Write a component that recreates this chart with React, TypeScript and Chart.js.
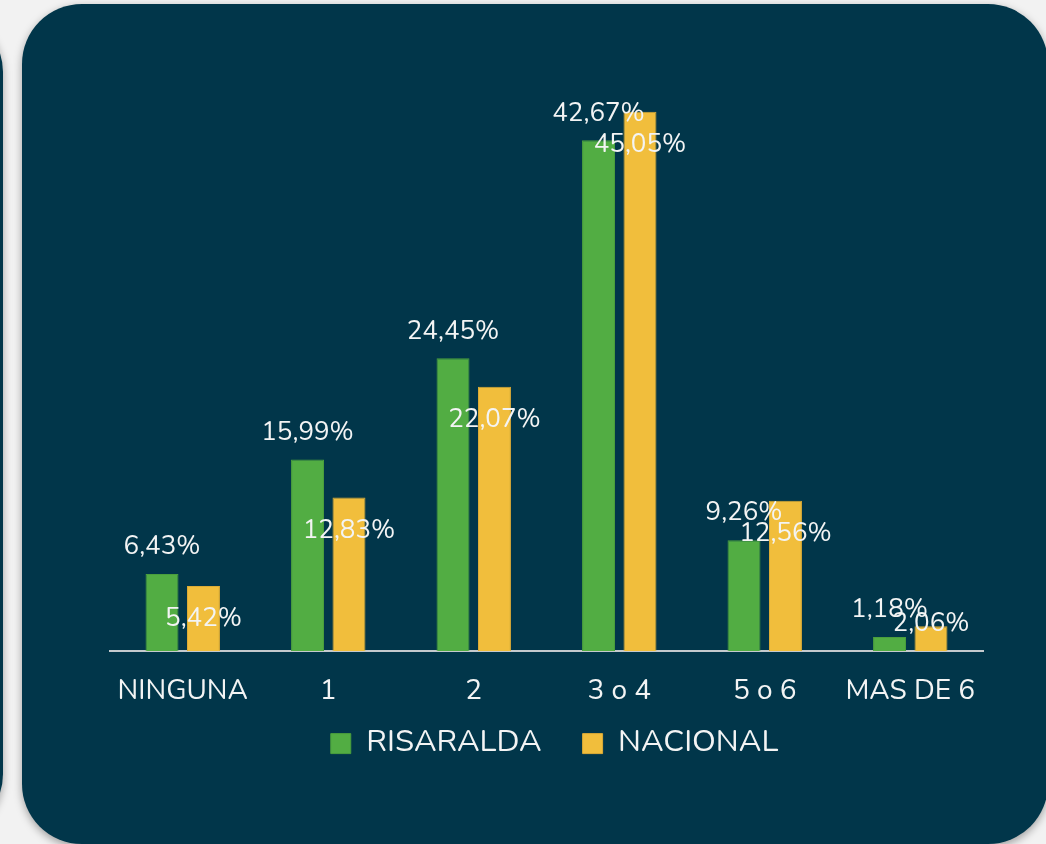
import React, { useEffect, useRef } from "react";
import { Chart, registerables } from "chart.js";

Chart.register(...registerables);

const categories = ["NINGUNA", "1", "2", "3 o 4", "5 o 6", "MAS DE 6"];
const risaralda = [6.43, 15.99, 24.45, 42.67, 9.26, 1.18];
const nacional = [5.42, 12.83, 22.07, 45.05, 12.56, 2.06];
const seriesNames = ["RISARALDA", "NACIONAL"];

const FONT = "Nunito, Lato, 'Open Sans', sans-serif";
const TEXT = "#f3f4f4";
const GREEN = "#52ad43";
const YELLOW = "#f1be3c";
const PANEL = "#01364a";

const fmt = (v: number) => v.toFixed(2).replace(".", ",") + "%";

const labelPlugin = {
  id: "barLabels",
  afterDatasetsDraw(chart: any) {
    const ctx = chart.ctx;
    const base = chart.scales.y.getPixelForValue(0);
    ctx.save();
    ctx.font = `26px ${FONT}`;
    ctx.fillStyle = TEXT;
    ctx.textAlign = "center";
    ctx.textBaseline = "middle";
    chart.data.datasets.forEach((ds: any, di: number) => {
      const meta = chart.getDatasetMeta(di);
      meta.data.forEach((el: any, i: number) => {
        const y = di === 0 ? el.y - 26 : Math.min(el.y + 34, base - 26);
        ctx.fillText(fmt(ds.data[i]), el.x, y);
      });
    });
    ctx.restore();
  },
};

// moves the legend row closer to the axis labels and a little to the right
const legendShift = {
  id: "legendShift",
  afterLayout(chart: any) {
    const lg = chart.legend;
    if (lg) {
      lg.top -= 45.5;
      lg.bottom -= 45.5;
      lg.left += 8;
      lg.right += 8;
    }
  },
};

export default function App() {
  const ref = useRef<HTMLCanvasElement | null>(null);

  useEffect(() => {
    if (!ref.current) return;
    const chart = new Chart(ref.current, {
      type: "bar",
      data: {
        labels: categories,
        datasets: [
          {
            label: seriesNames[0],
            data: risaralda,
            backgroundColor: GREEN,
            borderColor: "#4a9e3d",
            borderWidth: 1,
            categoryPercentage: 0.57,
            barPercentage: 0.795,
          },
          {
            label: seriesNames[1],
            data: nacional,
            backgroundColor: YELLOW,
            borderColor: "#dcab36",
            borderWidth: 1,
            categoryPercentage: 0.57,
            barPercentage: 0.795,
          },
        ],
      },
      options: {
        animation: false,
        responsive: false,
        maintainAspectRatio: false,
        layout: { padding: { left: 88, right: 63, top: 48.5, bottom: 29.4 } },
        scales: {
          x: {
            grid: { display: false, drawTicks: false },
            border: { display: true, color: "#c5cacd", width: 2 },
            ticks: {
              color: TEXT,
              font: { family: FONT, size: 28 },
              padding: 24,
            },
          },
          y: { display: false, min: 0, max: 50 },
        },
        plugins: {
          legend: {
            position: "bottom",
            labels: {
              color: TEXT,
              font: { family: FONT, size: 31 },
              boxWidth: 20,
              boxHeight: 20,
              padding: 41,
            },
          },
          tooltip: { enabled: false },
        },
      },
      plugins: [labelPlugin, legendShift],
    });
    return () => chart.destroy();
  }, []);

  return (
    <div
      style={{
        position: "fixed",
        left: 0,
        top: 0,
        width: 1046,
        height: 844,
        overflow: "hidden",
        background: "#f2f2f2",
      }}
    >
      <div
        style={{
          position: "absolute",
          left: -997,
          top: 12,
          width: 1000,
          height: 822,
          borderRadius: 60,
          background: PANEL,
          boxShadow: "0 3px 8px rgba(0,0,0,0.35)",
        }}
      />
      <div
        style={{
          position: "absolute",
          left: 22,
          top: 4,
          width: 1026,
          height: 840,
          borderRadius: 60,
          background: PANEL,
          boxShadow: "0 3px 8px rgba(0,0,0,0.35)",
        }}
      />
      <canvas
        ref={ref}
        width={1024}
        height={840}
        style={{ position: "absolute", left: 22, top: 4, width: 1024, height: 840 }}
      />
    </div>
  );
}
